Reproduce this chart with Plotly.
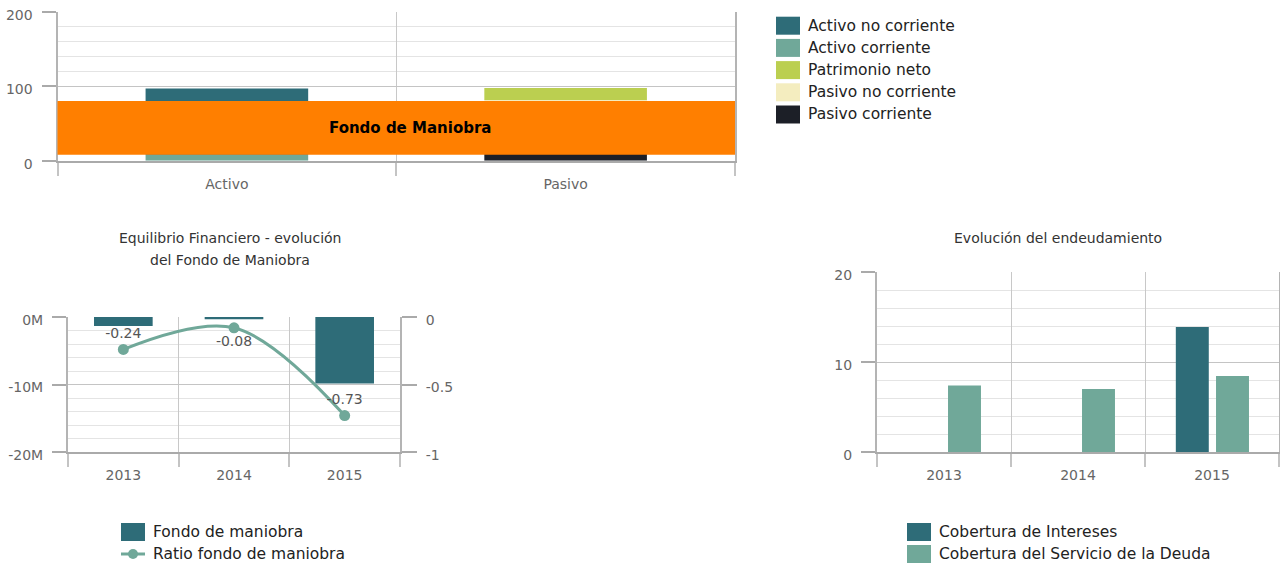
import plotly.graph_objects as go

W, H = 1280, 567

# ---------------- data ----------------
balance_categories = ["Activo", "Pasivo"]
activo_no_corriente = [89, 0]
activo_corriente = [8, 0]
patrimonio_neto = [0, 16]
pasivo_no_corriente = [0, 1.5]
pasivo_corriente = [0, 80]

years = ["2013", "2014", "2015"]
fondo_maniobra = [-1.33e6, -0.35e6, -9.85e6]
ratio_fondo = [-0.24, -0.08, -0.73]
ratio_labels = ["-0.24", "-0.08", "-0.73"]

cobertura_intereses = [None, None, 13.9]
cobertura_servicio_deuda = [7.4, 7.0, 8.45]

fm_tickvals = [0, -10e6, -20e6]
fm_ticktext = ["0M", "-10M", "-20M"]
ratio_tickvals = [0, -0.5, -1]
ratio_ticktext = ["0", "-0.5", "-1"]

# ---------------- style ----------------
C_DARK = "#2e6c78"
C_LIGHT = "#70a899"
C_LIME = "#bbcf50"
C_CREAM = "#f4edbf"
C_BLACK = "#1c1f27"
C_ORANGE = "#ff7f00"
FONT = "DejaVu Sans, Verdana, sans-serif"
TICKFONT = dict(family=FONT, size=14, color="#666666")
MAJOR = "#c4c4c4"
MINOR = "#e4e4e4"
AXLINE = "#aaaaaa"


def px(x):
    return x / W


def py(y):
    return 1 - y / H


fig = go.Figure()

# ---------- top stacked balance chart ----------
stack_series = [
    ("Activo corriente", activo_corriente, C_LIGHT),
    ("Activo no corriente", activo_no_corriente, C_DARK),
    ("Pasivo corriente", pasivo_corriente, C_BLACK),
    ("Pasivo no corriente", pasivo_no_corriente, C_CREAM),
    ("Patrimonio neto", patrimonio_neto, C_LIME),
]
base = [0] * len(balance_categories)
for name, vals, col in stack_series:
    fig.add_trace(go.Bar(
        x=balance_categories, y=vals, base=list(base), name=name,
        marker=dict(color=col, line=dict(width=0)), width=0.48,
        xaxis="x", yaxis="y", showlegend=False,
    ))
    base = [b + v for b, v in zip(base, vals)]

# ---------- bottom-left: fondo de maniobra ----------
fig.add_trace(go.Bar(
    x=years, y=fondo_maniobra, name="Fondo de maniobra",
    marker=dict(color=C_DARK, line=dict(width=0)), width=0.53,
    xaxis="x2", yaxis="y2", showlegend=False,
))
fig.add_trace(go.Scatter(
    x=years, y=ratio_fondo, name="Ratio fondo de maniobra",
    mode="lines+markers+text", text=ratio_labels,
    textposition=["top center", "bottom center", "top center"],
    textfont=dict(family=FONT, size=14, color="#555555"),
    line=dict(color=C_LIGHT, width=3, shape="spline"),
    marker=dict(color=C_LIGHT, size=11),
    xaxis="x2", yaxis="y3", showlegend=False, cliponaxis=False,
))

# ---------- bottom-right: endeudamiento ----------
fig.add_trace(go.Bar(
    x=years, y=cobertura_intereses, name="Cobertura de Intereses",
    marker=dict(color=C_DARK, line=dict(width=0)), width=0.246, offset=-0.27,
    xaxis="x3", yaxis="y4", showlegend=False,
))
fig.add_trace(go.Bar(
    x=years, y=cobertura_servicio_deuda, name="Cobertura del Servicio de la Deuda",
    marker=dict(color=C_LIGHT, line=dict(width=0)), width=0.246, offset=0.03,
    xaxis="x3", yaxis="y4", showlegend=False,
))


def cat_x(domain, anchor):
    return dict(
        domain=domain, anchor=anchor, type="category", automargin=False,
        tickson="boundaries", ticks="outside", ticklen=13, tickcolor="#c4c4c4",
        tickwidth=2, ticklabelstandoff=9,
        showgrid=True, gridcolor="#c8c8c8", gridwidth=1,
        showline=True, linecolor=AXLINE, linewidth=2,
        tickfont=TICKFONT, zeroline=False, fixedrange=True,
    )


def val_y(domain, anchor, rng, tickvals, ticktext, minor_dtick, mirror=True):
    return dict(
        domain=domain, anchor=anchor, range=rng, automargin=False,
        tickmode="array", tickvals=tickvals, ticktext=ticktext,
        ticks="outside", ticklen=14, tickcolor=AXLINE, tickwidth=2,
        ticklabelstandoff=6, ticklabelshift=3,
        showgrid=True, gridcolor=MAJOR, gridwidth=1,
        minor=dict(dtick=minor_dtick, tick0=0, showgrid=True, gridcolor=MINOR, gridwidth=1, ticks=""),
        showline=True, linecolor="#b4b4b4", linewidth=2, mirror=mirror,
        zeroline=False, tickfont=TICKFONT, fixedrange=True,
    )


layout_axes = dict(
    xaxis=dict(cat_x([px(57.5), px(735)], "y"), range=[-0.5, 1.5]),
    yaxis=val_y([py(160.7), py(11.7)], "x", [0, 200], [0, 100, 200], ["0", "100", "200"], 20),
    xaxis2=dict(cat_x([px(68), px(400)], "y2"), range=[-0.5, 2.5]),
    yaxis2=val_y([py(452), py(317)], "x2", [-20e6, 0], fm_tickvals, fm_ticktext, 2e6, mirror=False),
    yaxis3=dict(
        overlaying="y2", side="right", anchor="x2", range=[-1, 0], automargin=False,
        tickmode="array", tickvals=ratio_tickvals, ticktext=ratio_ticktext,
        ticks="outside", ticklen=15, tickcolor=AXLINE, tickwidth=2,
        ticklabelstandoff=6, ticklabelshift=3,
        showgrid=False, showline=True, linecolor="#b4b4b4", linewidth=2,
        zeroline=False, tickfont=TICKFONT, fixedrange=True,
    ),
    xaxis3=dict(cat_x([px(877), px(1279)], "y4"), range=[-0.5, 2.5]),
    yaxis4=val_y([py(452), py(272)], "x3", [0, 20], [0, 10, 20], ["0", "10", "20"], 2),
)

shapes = []
annotations = []

# orange working-capital band between the two current items
shapes.append(dict(
    type="rect", xref="x domain", yref="y", x0=0, x1=1,
    y0=activo_corriente[0], y1=pasivo_corriente[1],
    fillcolor=C_ORANGE, line=dict(width=0), layer="above",
))
annotations.append(dict(
    xref="x domain", yref="y", x=0.52, y=(activo_corriente[0] + pasivo_corriente[1]) / 2,
    text="<b>Fondo de Maniobra</b>", showarrow=False,
    font=dict(family=FONT, size=15, color="#000000"),
))

# chart titles
title_font = dict(family=FONT, size=14, color="#333333")
for txt, x, y in [
    ("Equilibrio Financiero - evolución", 230, 238),
    ("del Fondo de Maniobra", 230, 260),
    ("Evolución del endeudamiento", 1058, 238),
]:
    annotations.append(dict(xref="paper", yref="paper", x=px(x), y=py(y), text=txt,
                            showarrow=False, xanchor="center", yanchor="middle", font=title_font))

legend_font = dict(family=FONT, size=15.5, color="#222222")


def legend_item(xs, yc, name, color, kind="box"):
    if kind == "box":
        shapes.append(dict(type="rect", xref="paper", yref="paper",
                           x0=px(xs), x1=px(xs + 24), y0=py(yc + 9), y1=py(yc - 9),
                           fillcolor=color, line=dict(width=0)))
    else:
        shapes.append(dict(type="line", xref="paper", yref="paper",
                           x0=px(xs), x1=px(xs + 24), y0=py(yc), y1=py(yc),
                           line=dict(color=color, width=3)))
        shapes.append(dict(type="circle", xref="paper", yref="paper",
                           x0=px(xs + 7), x1=px(xs + 17), y0=py(yc + 5), y1=py(yc - 5),
                           fillcolor=color, line=dict(width=0)))
    annotations.append(dict(xref="paper", yref="paper", x=px(xs + 30), y=py(yc), text=name,
                            showarrow=False, xanchor="left", yanchor="middle", font=legend_font))


top_legend = [
    ("Activo no corriente", C_DARK),
    ("Activo corriente", C_LIGHT),
    ("Patrimonio neto", C_LIME),
    ("Pasivo no corriente", C_CREAM),
    ("Pasivo corriente", C_BLACK),
]
for i, (n, c) in enumerate(top_legend):
    legend_item(776, 25.7 + 22.2 * i, n, c)

legend_item(121, 532, "Fondo de maniobra", C_DARK)
legend_item(121, 554, "Ratio fondo de maniobra", C_LIGHT, kind="line")
legend_item(907, 532, "Cobertura de Intereses", C_DARK)
legend_item(907, 554, "Cobertura del Servicio de la Deuda", C_LIGHT)

fig.update_layout(
    template="none",
    width=W, height=H, margin=dict(l=0, r=0, t=0, b=0, autoexpand=False),
    paper_bgcolor="white", plot_bgcolor="white",
    barmode="overlay", showlegend=False,
    font=dict(family=FONT, color="#666666"),
    shapes=shapes, annotations=annotations,
    **layout_axes,
)

fig.write_html("out.html", config={"displayModeBar": False},
               post_script="document.body.style.margin='0';document.body.style.overflow='hidden';")
